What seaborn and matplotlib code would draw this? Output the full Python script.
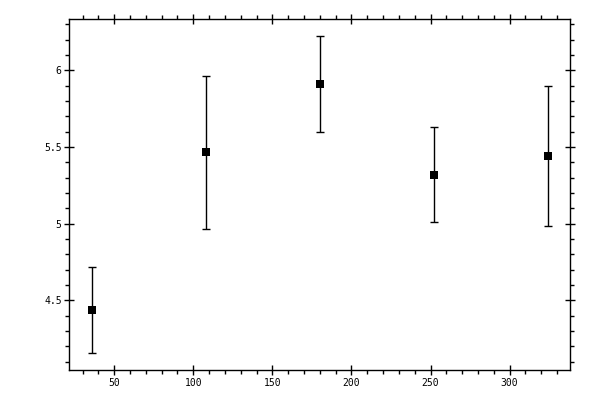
import matplotlib
matplotlib.use('Agg')
import matplotlib.pyplot as plt
import seaborn as sns
from matplotlib.ticker import MultipleLocator, FormatStrFormatter

# values
x_vals = [36, 108, 180, 252, 324]
y_means = [4.435, 5.465, 5.91, 5.32, 5.44]
y_errs = [0.28, 0.50, 0.315, 0.31, 0.455]

sns.set_style('ticks')
plt.rcParams['font.family'] = ['DejaVu Sans Mono', 'DejaVu Sans']

fig = plt.figure(figsize=(6, 4), dpi=100)
ax = fig.add_axes([0.1155, 0.075, 0.835, 0.877])

ax.errorbar(x_vals, y_means, yerr=y_errs, fmt='none', ecolor='black',
            elinewidth=1.0, capsize=3, capthick=1.0)
sns.scatterplot(x=x_vals, y=y_means, marker='s', s=26, color='black',
                edgecolor='black', linewidth=0, ax=ax, zorder=3)

ax.set_xlim(21.6, 338.4)
ax.set_ylim(4.045, 6.333)
ax.xaxis.set_major_locator(MultipleLocator(50))
ax.xaxis.set_minor_locator(MultipleLocator(10))
ax.yaxis.set_major_locator(MultipleLocator(0.5))
ax.yaxis.set_minor_locator(MultipleLocator(0.1))
ax.yaxis.set_major_formatter(FormatStrFormatter('%g'))

for s in ax.spines.values():
    s.set_visible(True)
    s.set_linewidth(1.0)
    s.set_color('black')

ax.tick_params(which='major', direction='inout', length=7, width=1.0,
               top=True, right=True, labelsize=7, pad=2, colors='black')
ax.tick_params(which='minor', direction='out', length=3, width=1.0,
               top=True, right=True, colors='black')
ax.set_xlabel('')
ax.set_ylabel('')

fig.savefig('out.png', dpi=100)
